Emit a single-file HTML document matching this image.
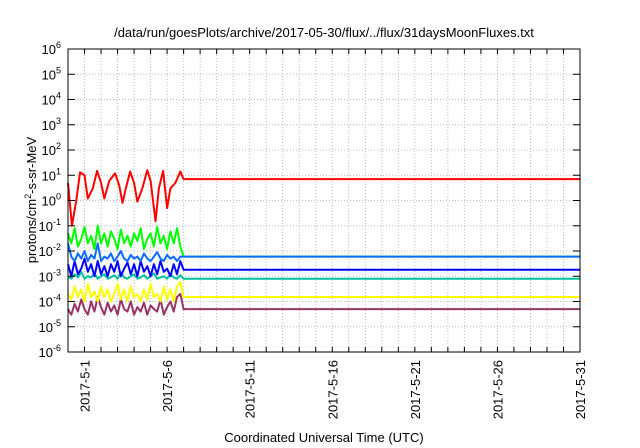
<!DOCTYPE html>
<html><head><meta charset="utf-8"><style>
body{margin:0;background:#fff}
svg{display:block;font-family:"Liberation Sans",sans-serif}
</style></head><body>
<svg id="chart" width="640" height="448" viewBox="0 0 640 448" xmlns="http://www.w3.org/2000/svg">
<rect width="640" height="448" fill="#fff"/>
<text x="324" y="37" font-size="13" text-anchor="middle">/data/run/goesPlots/archive/2017-05-30/flux/../flux/31daysMoonFluxes.txt</text>
<text x="324" y="442" font-size="13" text-anchor="middle">Coordinated Universal Time (UTC)</text>
<text transform="translate(36,200) rotate(-90)" font-size="13" text-anchor="middle">protons/cm<tspan font-size="9" dy="-5">2</tspan><tspan dy="5">-s-sr-MeV</tspan></text>
<g id="grid"></g><g id="series"></g><g id="axes"></g>
</svg>
<script>
const yExponents=[-6,-5,-4,-3,-2,-1,0,1,2,3,4,5,6];
const xTickDays=[1,6,11,16,21,26,31];
const xTickLabels=["2017-5-1","2017-5-6","2017-5-11","2017-5-16","2017-5-21","2017-5-26","2017-5-31"];
const redDays=[0,0.24,0.5,0.73,1.0,1.2,1.5,1.76,2.0,2.2,2.5,2.85,3.1,3.3,3.5,3.76,4.0,4.2,4.5,4.8,5.0,5.3,5.5,5.76,6.0,6.2,6.5,6.8,7.0,31];
const redValues=[5,0.1,1,13,10,1.2,3,15,5,1.2,6,12,4,0.8,3,14,5,0.9,3,16,6,0.15,3,15,0.5,3,5,14,7,7];
const noiseDays=[0,0.2,0.4,0.6,0.8,1.0,1.2,1.4,1.6,1.8,2.0,2.2,2.4,2.6,2.8,3.0,3.2,3.4,3.6,3.8,4.0,4.2,4.4,4.6,4.8,5.0,5.2,5.4,5.6,5.8,6.0,6.2,6.4,6.6,6.8,7.0];
const greenValues=[0.05,0.02,0.08,0.015,0.03,0.09,0.02,0.04,0.012,0.1,0.02,0.05,0.015,0.06,0.03,0.012,0.07,0.02,0.04,0.015,0.05,0.025,0.08,0.012,0.03,0.05,0.015,0.09,0.02,0.04,0.012,0.06,0.02,0.08,0.015,0.006];
const lightBlueValues=[0.02,0.006,0.004,0.008,0.005,0.01,0.004,0.007,0.005,0.02,0.004,0.006,0.005,0.008,0.004,0.006,0.01,0.005,0.004,0.007,0.005,0.006,0.004,0.008,0.005,0.004,0.006,0.009,0.005,0.004,0.007,0.005,0.006,0.004,0.006,0.006];
const blueValues=[0.003,0.001,0.004,0.0012,0.002,0.005,0.0015,0.003,0.001,0.004,0.0012,0.0025,0.001,0.003,0.0015,0.004,0.001,0.002,0.0035,0.0012,0.003,0.001,0.004,0.0015,0.0025,0.001,0.003,0.0012,0.004,0.0015,0.002,0.001,0.003,0.0012,0.004,0.0018];
const tealValues=[0.001,0.0008,0.0012,0.0009,0.0015,0.0008,0.001,0.0009,0.0013,0.0008,0.001,0.0012,0.0008,0.0009,0.0011,0.0008,0.0014,0.0009,0.0008,0.001,0.0012,0.0008,0.0009,0.0011,0.0008,0.001,0.0013,0.0008,0.0009,0.001,0.0008,0.0012,0.0009,0.0008,0.0011,0.0008];
const yellowValues=[0.0002,0.00012,0.0004,0.00015,0.0003,0.0001,0.0005,0.00015,0.00025,0.0001,0.0004,0.00015,0.0003,0.0001,0.0002,0.0005,0.00012,0.0003,0.0001,0.0004,0.00015,0.0002,0.0001,0.0003,0.00012,0.0005,0.00015,0.0002,0.0001,0.0004,0.00012,0.0003,0.0001,0.0004,0.0006,0.00015];
const purpleValues=[0.00005,0.00003,0.00008,0.00004,0.00012,0.00005,0.00003,0.0001,0.00004,0.00015,0.00006,0.00003,0.00009,0.00004,0.00007,0.00003,0.00012,0.00005,0.00004,0.0001,0.00003,0.00006,0.00004,0.00009,0.00003,0.00007,0.00005,0.00004,0.00012,0.00003,0.00006,0.0001,0.00004,0.00015,0.0002,0.00005];
const flatEndDay=31;
const greenFinal=0.006, lightBlueFinal=0.006, blueFinal=0.0018, tealFinal=0.0008, yellowFinal=0.00015, purpleFinal=0.00005;

const L=68,R=580,T=49,B=352;
const X0=0,X1=31;
function xs(d){return L+(d-X0)/(X1-X0)*(R-L);}
function ys(v){return B-(Math.log10(v)+6)/12*(B-T);}
const NS="http://www.w3.org/2000/svg";
function mk(tag,attrs,parent){const e=document.createElementNS(NS,tag);for(const k in attrs)e.setAttribute(k,attrs[k]);parent.appendChild(e);return e;}
const grid=document.getElementById('grid'),axes=document.getElementById('axes'),ser=document.getElementById('series');
for(let d=1;d<31;d++){
  const x=xs(d);
  const g=mk('line',{x1:x,x2:x,y1:T,y2:B,stroke:'#bbb','stroke-dasharray':'1,2','stroke-width':1},grid);
  
  
  const t1=mk('line',{x1:x,x2:x,y1:B,y2:B-5,stroke:'#000'},axes);
  
  
  const t2=mk('line',{x1:x,x2:x,y1:T,y2:T+5,stroke:'#000'},axes);
  
  
}
yExponents.forEach(e=>{
  const y=ys(Math.pow(10,e));
  if(e>-6&&e<6){const g=mk('line',{x1:L,x2:R,y1:y,y2:y,stroke:'#bbb','stroke-dasharray':'1,2','stroke-width':1},grid);
  
  }
  const t=mk('line',{x1:L,x2:L+7,y1:y,y2:y,stroke:'#000'},axes);
  
  
  const t2=mk('line',{x1:R,x2:R-7,y1:y,y2:y,stroke:'#000'},axes);
  
  
  const tx=mk('text',{x:L-6-(String(e).length>1?9:6),y:y+5,'font-size':13,'text-anchor':'end'},axes);
  
  
  tx.textContent='10';
  const sup=mk('text',{x:L-6-(String(e).length>1?9:6),y:y-1,'font-size':9,'text-anchor':'start'},axes);
  
  
  sup.textContent=String(e);
});
xTickDays.forEach((d,i)=>{
  const x=xs(d);
  const tx=mk('text',{transform:`translate(${x+5},${B+8}) rotate(-90)`,'font-size':13,'text-anchor':'end'},axes);
  
  
  tx.textContent=xTickLabels[i];
});
const fr=mk('rect',{x:L,y:T,width:R-L,height:B-T,fill:'none',stroke:'#000','stroke-width':1},axes);


function drawSeries(days,vals,color,name){
  const p=mk('polyline',{points:days.map((d,i)=>xs(d)+','+ys(vals[i])).join(' '),fill:'none',stroke:color,'stroke-width':2,'stroke-linejoin':'round'},ser);
  
  
}
function drawNoise(vals,finalV,color,name){
  drawSeries(noiseDays.concat([noiseDays[noiseDays.length-1],flatEndDay]),vals.concat([finalV,finalV]),color,name);
}
drawNoise(greenValues,greenFinal,'#00ff00','series-green');
drawNoise(purpleValues,purpleFinal,'#993366','series-purple');
drawNoise(yellowValues,yellowFinal,'#ffff00','series-yellow');
drawNoise(tealValues,tealFinal,'#00c0a0','series-teal');
drawNoise(blueValues,blueFinal,'#0000ff','series-blue');
drawNoise(lightBlueValues,lightBlueFinal,'#0a6cff','series-light-blue');
drawSeries(redDays,redValues,'#ff0000','series-red');
</script>
</body></html>
